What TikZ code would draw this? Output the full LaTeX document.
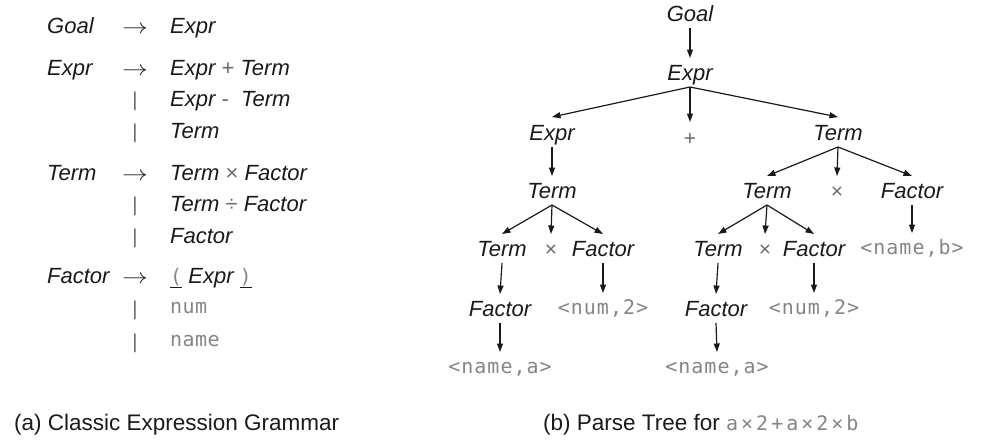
\documentclass[tikz,border=0pt]{standalone}
\usepackage{fontspec}
\usepackage{graphicx}
\setmainfont{Liberation Sans}
\newfontfamily\monof[LetterSpace=5]{DejaVu Sans Mono}
\newfontfamily\gmonof[LetterSpace=2]{DejaVu Sans Mono}
\newfontfamily\capmonof[LetterSpace=15]{DejaVu Sans Mono}
\usetikzlibrary{arrows.meta}
\definecolor{ink}{HTML}{1A1A1A}
\definecolor{tgray}{HTML}{858585}
\definecolor{ogray}{HTML}{6A6A6A}
\newcommand\myop[1]{{\upshape\color{ogray}#1}}
\newcommand\mytm[1]{{\upshape\fontsize{20}{24}\selectfont\gmonof\color{tgray}#1}}
\newcommand\myarrow{\scalebox{1.25}[1]{$\rightarrow$}}
\tikzset{
  nt/.style={anchor=base, inner sep=0pt, font=\fontsize{22}{26}\selectfont\itshape, text=ink},
  lhs/.style={nt, anchor=base west},
  rhs/.style={nt, anchor=base west},
  tm/.style={anchor=base, inner sep=0pt, font=\fontsize{20}{24}\selectfont\monof, text=tgray},
  tmw/.style={anchor=base west, inner sep=0pt, font=\fontsize{20}{24}\selectfont\gmonof, text=tgray},
  op/.style={anchor=base, inner sep=0pt, font=\fontsize{21}{24}\selectfont, text=ogray},
  bar/.style={anchor=base, inner sep=0pt, font=\fontsize{20}{24}\selectfont, text=ogray},
  prod/.style={anchor=base, inner sep=0pt, font=\fontsize{22}{26}\selectfont, text=ink},
  captext/.style={anchor=base west, inner sep=0pt, font=\fontsize{22.5}{26}\selectfont, text=ink},
  arr/.style={-{Triangle[length=8.5pt,width=6pt]}, line width=1.2pt, draw=ink},
}
\begin{document}
\begin{tikzpicture}[x=1pt,y=-1pt]
\useasboundingbox (0,0) rectangle (988,442);

% ---------- (a) grammar ----------
\node[lhs] (g1l) at (47,33) {Goal};
\node[prod] (g1a) at (135,33) {\myarrow};
\node[rhs] (g1r) at (170,33) {Expr};

\node[lhs] (g2l) at (47,75) {Expr};
\node[prod] (g2a) at (135,75) {\myarrow};
\node[rhs] (g2r) at (170,75) {Expr \myop{+} Term};
\node[bar] (g3b) at (135,106) {|};
\node[rhs] (g3r) at (170,106) {Expr \myop{-}\ \ Term};
\node[bar] (g4b) at (135,138) {|};
\node[rhs] (g4r) at (170,138) {Term};

\node[lhs] (g5l) at (47,180) {Term};
\node[prod] (g5a) at (135,180) {\myarrow};
\node[rhs] (g5r) at (170,180) {Term \myop{×} Factor};
\node[bar] (g6b) at (135,211) {|};
\node[rhs] (g6r) at (170,211) {Term \myop{÷} Factor};
\node[bar] (g7b) at (135,243) {|};
\node[rhs] (g7r) at (170,243) {Factor};

\node[lhs] (g8l) at (47,283) {Factor};
\node[prod] (g8a) at (135,283) {\myarrow};
\node[rhs] (g8r) at (170,283) {\underline{\mytm{(}}\ Expr\ \underline{\mytm{)}}};
\node[bar] (g9b) at (135,315) {|};
\node[tmw] (g9r) at (170,313) {num};
\node[bar] (g10b) at (135,348) {|};
\node[tmw] (g10r) at (170,346) {name};

% ---------- (b) parse tree ----------
\node[nt] (goal) at (690,21) {Goal};
\node[nt] (e0) at (690,80) {Expr};
\node[nt] (eL) at (552,140) {Expr};
\node[op] (plus) at (690,145) {+};
\node[nt] (tR) at (838,140) {Term};
\node[nt] (tL) at (552,198) {Term};
\node[nt] (tR2) at (767,198) {Term};
\node[op] (xR) at (837,198) {×};
\node[nt] (fR) at (912,198) {Factor};
\node[nt] (tLL) at (502,256) {Term};
\node[op] (xL) at (551,256) {×};
\node[nt] (fL) at (603,256) {Factor};
\node[nt] (tRL) at (718,256) {Term};
\node[op] (xR2) at (765,256) {×};
\node[nt] (fR2) at (814,256) {Factor};
\node[tm] (nb) at (912,254) {<name,b>};
\node[nt] (fLL) at (500,316) {Factor};
\node[tm] (nL) at (603,314) {<num,2>};
\node[nt] (fRL) at (716,316) {Factor};
\node[tm] (nR) at (814,314) {<num,2>};
\node[tm] (naL) at (500,373) {<name,a>};
\node[tm] (naR) at (717,373) {<name,a>};

\draw[arr] ([yshift=-7pt]goal.base) -- ([yshift=22pt]e0.base);
\foreach \c in {eL,plus,tR}
  \draw[arr] ([yshift=-7pt]e0.base) -- ([yshift=23pt]\c.base);
\draw[arr] ([yshift=-7pt]eL.base) -- ([yshift=22pt]tL.base);
\foreach \c in {tLL,xL,fL}
  \draw[arr] ([yshift=-7pt]tL.base) -- ([yshift=22pt]\c.base);
\foreach \c in {tR2,xR,fR}
  \draw[arr] ([yshift=-7pt]tR.base) -- ([yshift=22pt]\c.base);
\foreach \c in {tRL,xR2,fR2}
  \draw[arr] ([yshift=-7pt]tR2.base) -- ([yshift=22pt]\c.base);
\draw[arr] ([yshift=-7pt]fR.base) -- ([yshift=21pt]nb.base);
\draw[arr] ([yshift=-7pt]tLL.base) -- ([yshift=22pt]fLL.base);
\draw[arr] ([yshift=-7pt]fL.base) -- ([yshift=21pt]nL.base);
\draw[arr] ([yshift=-7pt]tRL.base) -- ([yshift=22pt]fRL.base);
\draw[arr] ([yshift=-7pt]fR2.base) -- ([yshift=21pt]nR.base);
\draw[arr] ([yshift=-7pt]fLL.base) -- ([yshift=21pt]naL.base);
\draw[arr] ([yshift=-7pt]fRL.base) -- ([yshift=21pt]naR.base);

% ---------- captions ----------
\node[captext] (capa) at (14,430) {(a) Classic Expression Grammar};
\node[captext] (capb) at (543,430) {(b) Parse Tree for {\fontsize{20}{24}\selectfont\capmonof\color{tgray}a×2+a×2×b}};
\end{tikzpicture}
\end{document}
